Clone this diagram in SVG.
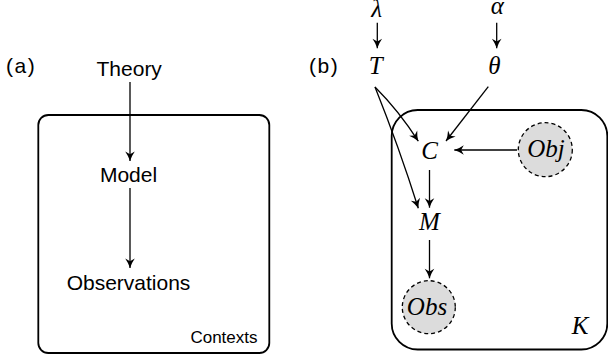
<svg xmlns="http://www.w3.org/2000/svg" width="608" height="360" viewBox="0 0 608 360">
<defs>
<style>
.sans{font-family:"Liberation Sans",Arial,sans-serif;fill:#000}
.lbl{font-size:21px}
.math{font-family:"Liberation Serif","Times New Roman",serif;font-style:italic;font-size:25px;fill:#000}
.box{fill:none;stroke:#000;stroke-width:1.8}
.edge{fill:none;stroke:#000;stroke-width:1.3;marker-end:url(#ah)}
.obs{fill:#dcdcdc;stroke:#000;stroke-width:1.3;stroke-dasharray:4 3}
</style>
<marker id="ah" markerUnits="userSpaceOnUse" markerWidth="14" markerHeight="14" viewBox="-11 -7 14 14" refX="0" refY="0" orient="auto">
<path d="M0,0 Q-5,-1.6 -9.5,-4.8 L-6.8,0 L-9.5,4.8 Q-5,1.6 0,0 Z" fill="#000"/>
</marker>
</defs>
<rect width="608" height="360" fill="#fff"/>

<!-- Panel (a) -->
<g id="panel-a-label"><text class="sans lbl" x="6" y="73" letter-spacing="1.5">(a)</text></g>
<g id="contexts-plate">
<rect class="box" x="38.3" y="115" width="231" height="238" rx="10"/>
<text class="sans" font-size="17" x="257.5" y="343" text-anchor="end">Contexts</text>
</g>
<g id="theory"><text class="sans lbl" x="129.2" y="75.7" text-anchor="middle">Theory</text></g>
<g id="model"><text class="sans lbl" x="128.5" y="181.7" text-anchor="middle">Model</text></g>
<g id="observations"><text class="sans lbl" x="128.5" y="290" text-anchor="middle">Observations</text></g>

<!-- Panel (b) -->
<g id="panel-b-label"><text class="sans lbl" x="309" y="72.5" letter-spacing="1.5">(b)</text></g>
<g id="k-plate">
<rect class="box" x="391.7" y="110" width="215.6" height="239.5" rx="26"/>
<text class="math" x="580" y="334" text-anchor="middle">K</text>
</g>
<g id="lambda"><text class="math" x="376.7" y="17" text-anchor="middle">λ</text></g>
<g id="alpha"><text class="math" x="497.3" y="14" text-anchor="middle">α</text></g>
<g id="T"><text class="math" x="375.8" y="74" text-anchor="middle">T</text></g>
<g id="theta"><text class="math" x="494.5" y="74" text-anchor="middle">θ</text></g>
<g id="C"><text class="math" x="429.5" y="159" text-anchor="middle">C</text></g>
<g id="M"><text class="math" x="429.5" y="230" text-anchor="middle">M</text></g>
<g id="Obj">
<circle class="obs" cx="545.3" cy="149.7" r="27"/>
<text class="math" x="546" y="157" text-anchor="middle">Obj</text>
</g>
<g id="Obs">
<circle class="obs" cx="428.8" cy="307.2" r="26.5"/>
<text class="math" x="427" y="315" text-anchor="middle">Obs</text>
</g>

<g id="connectors">
<path class="edge" d="M130,82 L130,161"/>
<path class="edge" d="M130,188 L130,268"/>
<path class="edge" d="M377.3,22.7 L377.3,48.3"/>
<path class="edge" d="M496.7,22.7 L496.7,48.3"/>
<path class="edge" d="M375,87 Q399,111 418.3,141.2"/>
<path class="edge" d="M375,87 Q399,147 418.3,208.3"/>
<path class="edge" d="M488.3,86.7 L446,141"/>
<path class="edge" d="M517,150 L454.3,150"/>
<path class="edge" d="M429.5,170 L429.5,207.7"/>
<path class="edge" d="M429.5,240 L429.5,278.3"/>
</g>
</svg>
